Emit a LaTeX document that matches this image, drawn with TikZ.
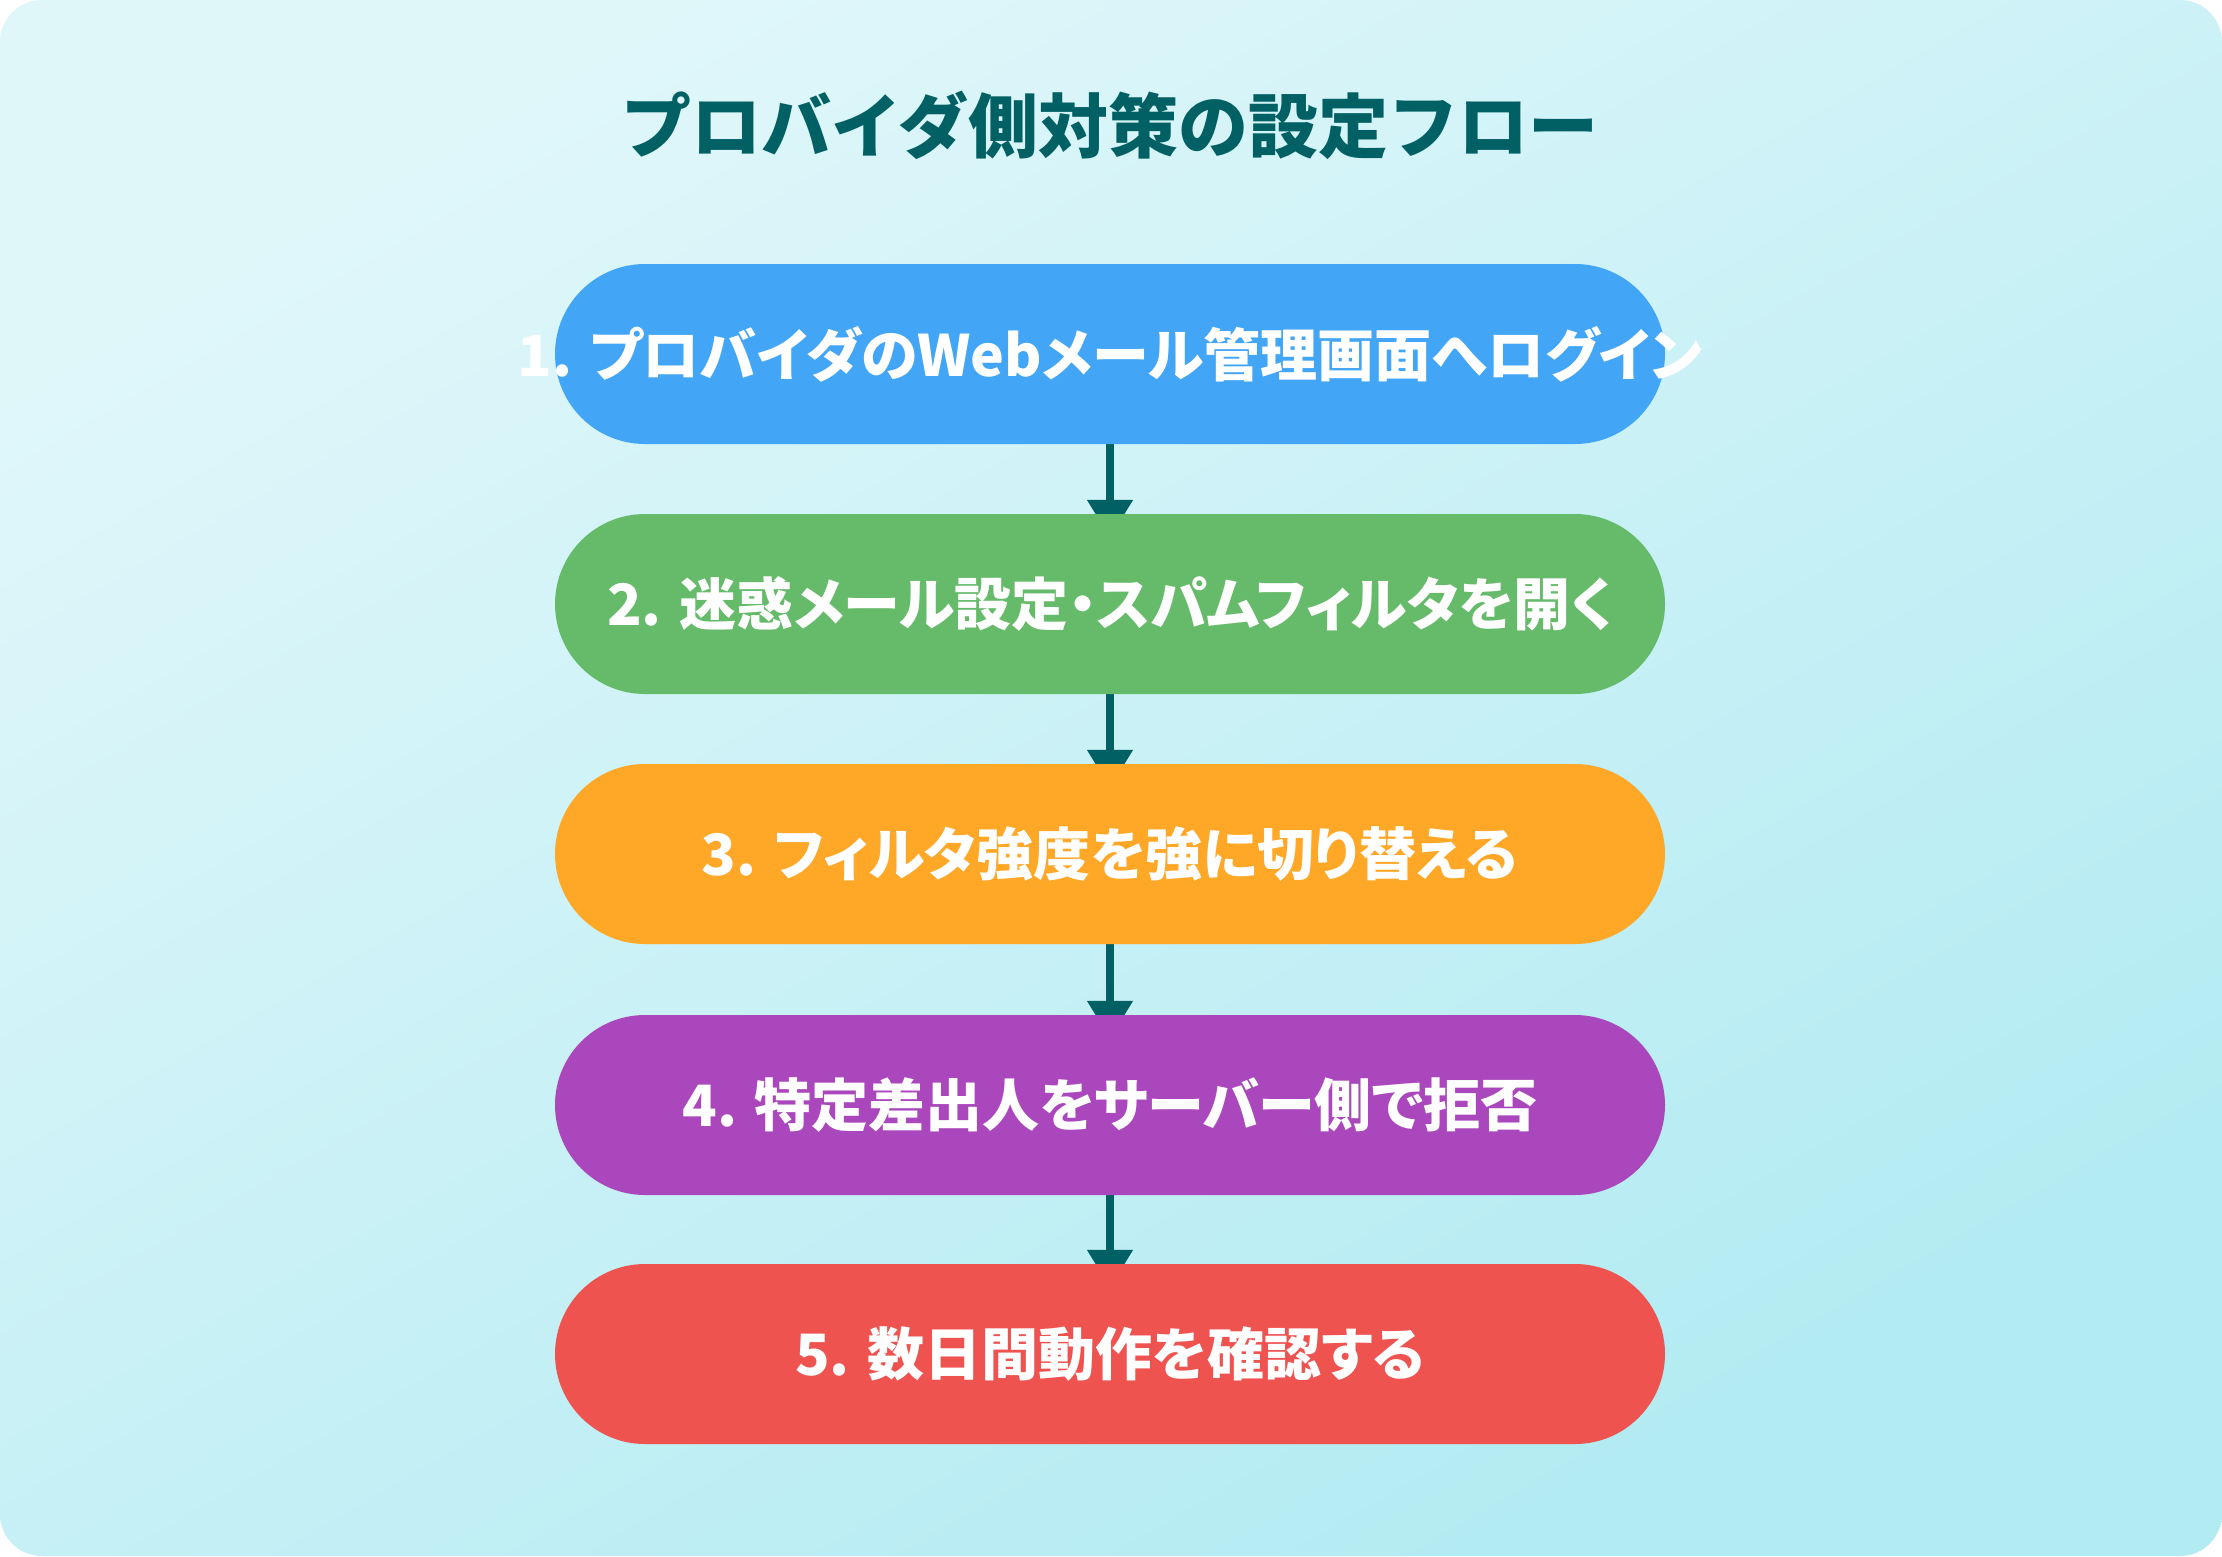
\documentclass[tikz,border=0pt]{standalone}
\usepackage{fontspec}
\setmainfont{Noto Sans CJK JP}
\newfontfamily\boxfont{Noto Sans CJK JP}[RawFeature=+palt]
\usetikzlibrary{arrows.meta}
\definecolor{bgA}{HTML}{E0F7FA}
\definecolor{bgB}{HTML}{B2EBF2}
\definecolor{ink}{HTML}{006064}
\definecolor{cblue}{HTML}{42A5F5}
\definecolor{cgreen}{HTML}{66BB6A}
\definecolor{corange}{HTML}{FFA726}
\definecolor{cpurple}{HTML}{AB47BC}
\definecolor{cred}{HTML}{EF5350}
\pgfdeclarelayer{bg}
\pgfdeclarelayer{arr}
\pgfsetlayers{bg,arr,main}
\newcommand{\steptext}[1]{\makebox[0pt][c]{#1}}
\tikzset{
  stepbox/.style={rectangle, rounded corners=90pt, minimum width=1110pt, minimum height=180pt,
    inner sep=0pt, text=white, font=\boxfont\fontsize{57pt}{62pt}\selectfont\bfseries},
  flowarrow/.style={draw=ink, line width=8pt, shorten >=-24pt,
    -{Triangle[width=44pt,length=38pt]}},
  titletext/.style={text=ink, font=\fontsize{70pt}{80pt}\selectfont\bfseries}
}
\begin{document}
\begin{tikzpicture}[x=1pt,y=-1pt]
\useasboundingbox (0,0) rectangle (2222,1556);
\begin{pgfonlayer}{bg}
\shade[rounded corners=42pt, top color=bgA, bottom color=bgB, shading angle=30] (0,0) rectangle (2222,1556);
\end{pgfonlayer}
\node[titletext] (title) at (1110,125) {プロバイダ側対策の設定フロー};
\node[stepbox, fill=cblue] (b1) at (1110,354) {\steptext{1. プロバイダのWebメール管理画面へログイン}};
\node[stepbox, fill=cgreen] (b2) at (1110,604) {\steptext{2. 迷惑メール設定・スパムフィルタを開く}};
\node[stepbox, fill=corange] (b3) at (1110,854) {\steptext{3. フィルタ強度を強に切り替える}};
\node[stepbox, fill=cpurple] (b4) at (1110,1105) {\steptext{4. 特定差出人をサーバー側で拒否}};
\node[stepbox, fill=cred] (b5) at (1110,1354) {\steptext{5. 数日間動作を確認する}};
\begin{pgfonlayer}{arr}
\draw[flowarrow] (b1.south) -- (b2.north);
\draw[flowarrow] (b2.south) -- (b3.north);
\draw[flowarrow] (b3.south) -- (b4.north);
\draw[flowarrow] (b4.south) -- (b5.north);
\end{pgfonlayer}
\end{tikzpicture}
\end{document}
